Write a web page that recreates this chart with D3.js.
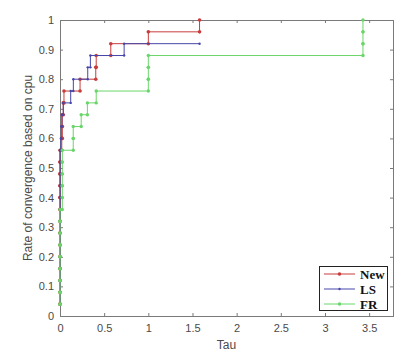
<!DOCTYPE html>
<html>
<head>
<meta charset="utf-8">
<script src="https://cdn.jsdelivr.net/npm/d3@7"></script>
<style>
  body { margin: 0; background: #fff; }
  svg { display: block; }
</style>
</head>
<body>
<script>
// performance profile, 25 test problems, tau value where each problem gets solved (null = failed)
const nProblems = 25;
const solvers = ['New', 'LS', 'FR'];
const newTau = [0, 0, 0, 0, 0, 0, 0, 0, 0, 0, 0, 0, 0, 0,
                0.02, 0.026, 0.026, 0.037, 0.045, 0.227, 0.405, 0.41, 0.575, 1.0, 1.58];
const lsTau = [0, 0, 0, 0, 0, 0, 0, 0, 0, 0, 0, 0, 0, 0,
               0.01, 0.015, 0.02, 0.037, 0.121, 0.151, 0.314, 0.344, 0.726, null, null];
const frTau = [0, 0, 0, 0, 0, 0, 0, 0, 0,
               0.026, 0.026, 0.026, 0.026, 0.026,
               0.15, 0.15, 0.24, 0.31, 0.41, 1.0, 1.0, 1.0, 3.43, 3.43, 3.43];
const tauEnd = [1.58, 1.58, 3.43];
const xTicks = [0, 0.5, 1, 1.5, 2, 2.5, 3, 3.5];
const yTicks = [0, 0.1, 0.2, 0.3, 0.4, 0.5, 0.6, 0.7, 0.8, 0.9, 1];

const colors = ['#c83c3c', '#4646aa', '#6ad66a'];
const dotR = [1.8, 1.2, 1.7];

const width = 407, height = 361;
const margin = {left: 60, right: 14, top: 20, bottom: 45};

const svg = d3.select('body').append('svg')
    .attr('width', width)
    .attr('height', height);

const x = d3.scaleLinear().domain([0, 3.77]).range([margin.left, width - margin.right]);
const y = d3.scaleLinear().domain([0, 1]).range([height - margin.bottom, margin.top]);

// axes, ticks pointing inward
const axisColor = '#7a7a7a';
function styleAxis(g) {
    g.select('.domain').remove();
    g.selectAll('.tick line').attr('stroke', axisColor);
    g.selectAll('.tick text')
        .attr('fill', '#4a4a4a')
        .style('font-family', 'Liberation Sans, Arial, sans-serif')
        .style('font-size', '11px');
}

svg.append('g')
    .attr('transform', `translate(0,${y(0)})`)
    .call(d3.axisBottom(x).tickValues(xTicks).tickSize(-3).tickPadding(8).tickFormat(d3.format('~g')))
    .call(styleAxis);
svg.append('g')
    .attr('transform', `translate(0,${y(1)})`)
    .call(d3.axisTop(x).tickValues(xTicks).tickSize(-3).tickFormat(''))
    .call(styleAxis);
svg.append('g')
    .attr('transform', `translate(${x.range()[0]},0)`)
    .call(d3.axisLeft(y).tickValues(yTicks).tickSize(-3).tickPadding(6).tickFormat(d3.format('~g')))
    .call(styleAxis);
svg.append('g')
    .attr('transform', `translate(${x.range()[1]},0)`)
    .call(d3.axisRight(y).tickValues(yTicks).tickSize(-3).tickFormat(''))
    .call(styleAxis);

svg.append('rect')
    .attr('x', x.range()[0] + 0.5)
    .attr('y', y(1) + 0.5)
    .attr('width', x.range()[1] - x.range()[0])
    .attr('height', y(0) - y(1))
    .attr('fill', 'none')
    .attr('stroke', axisColor);

// labels
svg.append('text')
    .attr('x', (x.range()[0] + x.range()[1]) / 2)
    .attr('y', 349)
    .attr('text-anchor', 'middle')
    .attr('fill', '#4a4a4a')
    .style('font-family', 'Liberation Sans, Arial, sans-serif')
    .style('font-size', '12px')
    .text('Tau');

svg.append('text')
    .attr('transform', `translate(32,${(y(0) + y(1)) / 2}) rotate(-90)`)
    .attr('text-anchor', 'middle')
    .attr('fill', '#4a4a4a')
    .style('font-family', 'Liberation Sans, Arial, sans-serif')
    .style('font-size', '12px')
    .text('Rate of convergence based on cpu');

// stair vertices of a performance profile
function stairs(taus, end) {
    const pts = [];
    let last = null;
    taus.forEach(function(t, i) {
        if (t == null) return;
        if (pts.length == 0) pts.push([t, (i + 1) / nProblems]);
        else {
            pts.push([t, i / nProblems]);
            pts.push([t, (i + 1) / nProblems]);
        }
        last = [t, (i + 1) / nProblems];
    });
    if (end > last[0]) pts.push([end, last[1]]);
    return pts;
}

const line = d3.line()
    .x(d => x(d[0]))
    .y(d => y(d[1]));

[newTau, lsTau, frTau].forEach(function(taus, k) {
    const pts = stairs(taus, tauEnd[k]);
    const g = svg.append('g');
    g.append('path')
        .attr('d', line(pts))
        .attr('fill', 'none')
        .attr('stroke', colors[k])
        .attr('stroke-width', 1);
    g.selectAll('circle')
        .data(pts)
        .join('circle')
        .attr('cx', d => x(d[0]))
        .attr('cy', d => y(d[1]))
        .attr('r', dotR[k])
        .attr('fill', colors[k]);
});

// legend
const leg = svg.append('g');
leg.append('rect')
    .attr('x', 319.5)
    .attr('y', 266.5)
    .attr('width', 68)
    .attr('height', 44)
    .attr('fill', '#fff')
    .attr('stroke', '#222');
solvers.forEach(function(name, k) {
    const ly = 274 + k * 15;
    leg.append('line')
        .attr('x1', 324).attr('x2', 355)
        .attr('y1', ly).attr('y2', ly)
        .attr('stroke', colors[k]);
    leg.append('circle')
        .attr('cx', 339.5).attr('cy', ly)
        .attr('r', dotR[k])
        .attr('fill', colors[k]);
    leg.append('text')
        .attr('x', 360)
        .attr('y', ly + 4.5)
        .style('font-family', 'Liberation Serif, Times New Roman, serif')
        .style('font-weight', 'bold')
        .style('font-size', '13px')
        .attr('fill', '#111')
        .text(name);
});
</script>
</body>
</html>
